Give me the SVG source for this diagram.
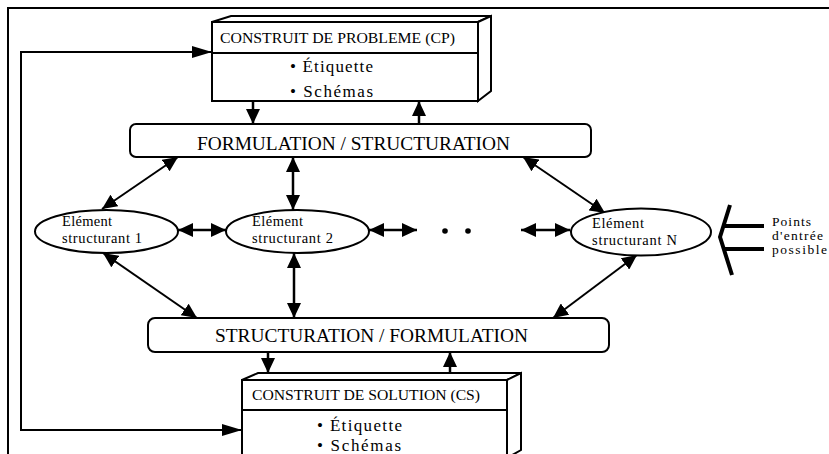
<svg xmlns="http://www.w3.org/2000/svg" width="829" height="454" viewBox="0 0 829 454">
<style>
.t{font-family:"Liberation Serif","Times New Roman",serif;fill:#000}
.box{fill:#fff;stroke:#000;stroke-width:2}
.c{fill:none;stroke:#000;stroke-width:2.5}
.d{fill:none;stroke:#000;stroke-width:2}
</style>
<defs>
<marker id="ah" viewBox="0 0 15 14" refX="15" refY="7" markerWidth="15" markerHeight="14" markerUnits="userSpaceOnUse" orient="auto-start-reverse"><path d="M0,0 L15,7 L0,14 z" fill="#000"/></marker>
<marker id="al" viewBox="0 0 20 12" refX="20" refY="6" markerWidth="20" markerHeight="12" markerUnits="userSpaceOnUse" orient="auto-start-reverse"><path d="M0,0 L20,6 L0,12 z" fill="#000"/></marker>
</defs>
<rect x="0" y="0" width="829" height="454" fill="#fff"/>
<path d="M8,470 V8 H840" fill="none" stroke="#000" stroke-width="2"/>

<g id="connectors">
<path class="d" d="M212,52 H21 V430 H242" marker-start="url(#al)" marker-end="url(#al)"/>
<path class="c" d="M253,101 V124" marker-end="url(#ah)"/>
<path class="c" d="M419,124 V101" marker-end="url(#ah)"/>
<path class="d" d="M178,157 L102,209" marker-start="url(#ah)" marker-end="url(#ah)"/>
<path class="c" d="M293,157 V210" marker-start="url(#ah)" marker-end="url(#ah)"/>
<path class="d" d="M523,157 L605,213" marker-start="url(#ah)" marker-end="url(#ah)"/>
<path class="c" d="M178,230 H226" marker-start="url(#ah)" marker-end="url(#ah)"/>
<path class="c" d="M369,230 H417" marker-start="url(#ah)" marker-end="url(#ah)"/>
<path class="c" d="M521,230 H570" marker-start="url(#ah)" marker-end="url(#ah)"/>
<path class="d" d="M103,253 L197,318" marker-start="url(#ah)" marker-end="url(#ah)"/>
<path class="c" d="M294,253 V318" marker-start="url(#ah)" marker-end="url(#ah)"/>
<path class="d" d="M637,255 L553,318" marker-start="url(#ah)" marker-end="url(#ah)"/>
<path class="c" d="M268,352 V373" marker-end="url(#ah)"/>
<path class="c" d="M450,373 V352" marker-end="url(#ah)"/>
</g>

<g id="cp">
<polygon class="box" points="212,22 231,16 491,16 478,22"/>
<polygon class="box" points="478,22 491,16 491,91 478,101"/>
<rect class="box" x="212" y="22" width="266" height="79"/>
<line x1="212" y1="53" x2="478" y2="53" stroke="#000" stroke-width="2"/>
<text class="t" x="220" y="43" font-size="15" textLength="235" lengthAdjust="spacingAndGlyphs">CONSTRUIT DE PROBLEME (CP)</text>
<text class="t" x="290" y="72" font-size="17" textLength="83" lengthAdjust="spacing">• Étiquette</text>
<text class="t" x="290" y="97" font-size="17" textLength="83" lengthAdjust="spacing">• Schémas</text>
</g>

<g id="formulation">
<rect class="box" x="130" y="124" width="461" height="33" rx="6"/>
<text class="t" x="197" y="150" font-size="18.5" textLength="313" lengthAdjust="spacingAndGlyphs">FORMULATION / STRUCTURATION</text>
</g>

<g id="e1">
<ellipse class="box" cx="106.5" cy="231.5" rx="71.5" ry="21.5"/>
<text class="t" x="62" y="226" font-size="14.5" textLength="50" lengthAdjust="spacing">Elément</text>
<text class="t" x="62" y="243" font-size="14.5" textLength="80" lengthAdjust="spacing">structurant 1</text>
</g>

<g id="e2">
<ellipse class="box" cx="297.5" cy="231.5" rx="71.5" ry="21.5"/>
<text class="t" x="252" y="226" font-size="14.5" textLength="51" lengthAdjust="spacing">Elément</text>
<text class="t" x="252" y="243" font-size="14.5" textLength="81" lengthAdjust="spacing">structurant 2</text>
</g>

<g id="dots">
<circle cx="445" cy="231" r="2.8" fill="#000"/>
<circle cx="468" cy="231" r="2.8" fill="#000"/>
</g>

<g id="en">
<ellipse class="box" cx="641" cy="232" rx="70" ry="23.5"/>
<text class="t" x="592" y="228" font-size="14.5" textLength="52" lengthAdjust="spacing">Elément</text>
<text class="t" x="592" y="245" font-size="14.5" textLength="85" lengthAdjust="spacing">structurant N</text>
</g>

<g id="entry">
<path d="M730,205 L720,237 L732,275" fill="none" stroke="#000" stroke-width="4" stroke-linejoin="round"/>
<line x1="724" y1="226" x2="764" y2="226" stroke="#000" stroke-width="4"/>
<line x1="724" y1="249" x2="764" y2="249" stroke="#000" stroke-width="4"/>
<text class="t" x="772" y="226" font-size="13.5" textLength="39" lengthAdjust="spacing">Points</text>
<text class="t" x="772" y="240" font-size="13.5" textLength="51" lengthAdjust="spacing">d'entrée</text>
<text class="t" x="772" y="254" font-size="13.5" textLength="55" lengthAdjust="spacing">possible</text>
</g>

<g id="structuration">
<rect class="box" x="148" y="318" width="461" height="34" rx="7"/>
<text class="t" x="215" y="342" font-size="18.5" textLength="313" lengthAdjust="spacingAndGlyphs">STRUCTURATION / FORMULATION</text>
</g>

<g id="cs">
<polygon class="box" points="242,380 258,373 521,373 507,380"/>
<polygon class="box" points="507,380 521,373 521,450 507,458"/>
<rect class="box" x="242" y="380" width="265" height="90"/>
<line x1="242" y1="410" x2="507" y2="410" stroke="#000" stroke-width="2"/>
<text class="t" x="252" y="400" font-size="15" textLength="228" lengthAdjust="spacingAndGlyphs">CONSTRUIT DE SOLUTION (CS)</text>
<text class="t" x="317" y="431" font-size="17" textLength="85" lengthAdjust="spacing">• Étiquette</text>
<text class="t" x="317" y="451" font-size="17" textLength="84" lengthAdjust="spacing">• Schémas</text>
</g>
</svg>
